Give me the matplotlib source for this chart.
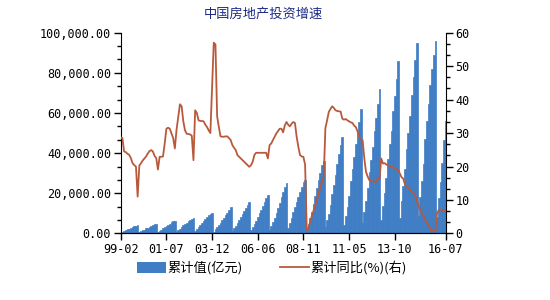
import numpy as np
import matplotlib
matplotlib.use("Agg")
import matplotlib.pyplot as plt
from matplotlib.ticker import FuncFormatter, MultipleLocator, AutoMinorLocator
from matplotlib.patches import Patch
from matplotlib.lines import Line2D

plt.rcParams['font.family'] = ['Noto Sans CJK SC', 'DejaVu Sans']

# months reported (Jan merged into Feb): Feb..Dec each year, 2016 up to Jul
years = list(range(1999, 2016))
months = [2, 3, 4, 5, 6, 7, 8, 9, 10, 11, 12]
last_months = [2, 3, 4, 5, 6, 7]

# cumulative investment (亿元), one list per year, Feb..Dec
inv_1999 = [420, 800, 1200, 1550, 1950, 2350, 2700, 3050, 3450, 3850, 4100]
inv_2000 = [500, 950, 1450, 1900, 2450, 2900, 3350, 3800, 4250, 4650, 4900]
inv_2001 = [580, 1200, 1800, 2450, 3150, 3750, 4300, 4900, 5500, 5950, 6300]
inv_2002 = [720, 1500, 2250, 3050, 3950, 4700, 5400, 6150, 6800, 7300, 7700]
inv_2003 = [950, 2000, 2950, 3950, 5250, 6250, 7250, 8300, 9100, 9700, 10100]
inv_2004 = [880, 1960, 2940, 3980, 5390, 6440, 7640, 9020, 10270, 11570, 13158]
inv_2005 = [1150, 2480, 3680, 5010, 6700, 8000, 9440, 11210, 12710, 14140, 15759]
inv_2006 = [1499, 3080, 4460, 6170, 8270, 9970, 11670, 13805, 15870, 17700, 19382]
inv_2007 = [1912, 3810, 5650, 7730, 10400, 12560, 15120, 17990, 20850, 23170, 25280]
inv_2008 = [2600, 5000, 7500, 10500, 13200, 15800, 18300, 20700, 23200, 25500, 26600]
inv_2009 = [2350, 4880, 7458, 10590, 14560, 18520, 22470, 26640, 30270, 33840, 36232]
inv_2010 = [3131, 6594, 9903, 14156, 19747, 24148, 29180, 34737, 39560, 43945, 48267]
inv_2011 = [4205, 8846, 13187, 18737, 26250, 31865, 38092, 44660, 49992, 55686, 61740]
inv_2012 = [5004, 10910, 16376, 22724, 30610, 36700, 42900, 51046, 57288, 64463, 71804]
inv_2013 = [6754, 13728, 20301, 27848, 36828, 44301, 51120, 61120, 68693, 76959, 86013]
inv_2014 = [7846, 16054, 23669, 32288, 42019, 50258, 58287, 68751, 78069, 86538, 95036]
inv_2015 = [8786, 18023, 25861, 34776, 46960, 55880, 64413, 74016, 81849, 89032, 95979]
inv_2016 = [8179, 17677, 25579, 34841, 46631, 55878]

# cumulative YoY growth (%), right axis
yoy_1999 = [28.7, 28.5, 24.5, 24.3, 23.8, 23.5, 22.5, 21.0, 20.4, 20.0, 11.0]
yoy_2000 = [20.3, 21.0, 21.8, 22.4, 23.0, 23.9, 24.6, 24.9, 24.5, 23.2, 22.5]
yoy_2001 = [19.1, 22.9, 22.9, 23.0, 26.9, 31.3, 31.6, 31.3, 29.9, 28.5, 25.4]
yoy_2002 = [31.0, 34.8, 38.6, 38.0, 33.5, 30.8, 29.8, 29.7, 29.6, 29.2, 21.9]
yoy_2003 = [36.8, 36.0, 33.8, 33.6, 33.6, 33.5, 32.5, 31.8, 30.8, 30.0, 43.5]
yoy_2004 = [57.0, 56.5, 35.0, 31.8, 29.0, 28.9, 28.9, 29.0, 29.0, 28.5, 27.9]
yoy_2005 = [26.4, 25.6, 24.9, 23.4, 22.9, 22.4, 21.9, 21.4, 20.9, 20.4, 19.9]
yoy_2006 = [20.4, 21.4, 23.4, 24.1, 24.1, 24.1, 24.1, 24.1, 24.1, 24.1, 22.4]
yoy_2007 = [26.4, 26.9, 27.9, 28.9, 29.9, 30.6, 31.3, 31.3, 30.2, 32.3, 33.3]
yoy_2008 = [32.5, 32.0, 32.8, 33.3, 33.0, 28.9, 25.9, 23.4, 23.0, 22.9, 20.5]
yoy_2009 = [1.0, 1.5, 3.5, 5.2, 7.0, 8.5, 10.0, 12.0, 13.9, 15.5, 16.9]
yoy_2010 = [31.5, 33.8, 36.3, 37.2, 38.0, 37.5, 36.8, 36.6, 36.5, 36.4, 34.3]
yoy_2011 = [34.0, 34.2, 33.8, 33.5, 33.2, 33.0, 32.2, 31.8, 30.5, 28.9, 28.2]
yoy_2012 = [27.9, 22.4, 18.4, 17.0, 15.9, 15.6, 15.6, 15.4, 15.4, 16.5, 16.2]
yoy_2013 = [22.4, 20.9, 21.0, 20.6, 20.3, 20.2, 19.9, 19.7, 19.4, 19.2, 19.0]
yoy_2014 = [17.9, 16.8, 16.4, 14.7, 13.9, 13.7, 13.2, 12.5, 11.9, 11.5, 10.0]
yoy_2015 = [8.5, 7.0, 6.0, 5.1, 4.0, 3.3, 2.6, 1.0, 0.8, 0.6, 0.5]
yoy_2016 = [6.0, 7.0, 7.2, 7.0, 7.0, 6.5]

tick_labels = ['99-02', '01-07', '03-12', '06-06', '08-11', '11-05', '13-10', '16-07']

inv = np.array(inv_1999 + inv_2000 + inv_2001 + inv_2002 + inv_2003 + inv_2004
               + inv_2005 + inv_2006 + inv_2007 + inv_2008 + inv_2009 + inv_2010
               + inv_2011 + inv_2012 + inv_2013 + inv_2014 + inv_2015 + inv_2016, dtype=float)
yoy = np.array(yoy_1999 + yoy_2000 + yoy_2001 + yoy_2002 + yoy_2003 + yoy_2004
               + yoy_2005 + yoy_2006 + yoy_2007 + yoy_2008 + yoy_2009 + yoy_2010
               + yoy_2011 + yoy_2012 + yoy_2013 + yoy_2014 + yoy_2015 + yoy_2016, dtype=float)

# period labels like 99-02, used to place the ticks
periods = ['%02d-%02d' % (y % 100, m) for y in years for m in months]
periods += ['16-%02d' % m for m in last_months]
x = np.arange(len(periods))
tick_pos = [periods.index(t) for t in tick_labels]

bar_color = '#3f7dc4'
line_color = '#b9593b'
mono = 'DejaVu Sans Mono'

fig = plt.figure(figsize=(5.5, 3.0), dpi=100)
ax = fig.add_axes([0.2195, 0.222, 0.5905, 0.669])
ax.bar(x, inv, width=1.0, color=bar_color, edgecolor=bar_color, linewidth=0.5)
ax.set_xlim(0, len(x) - 1)
ax.set_ylim(0, 100000)
ax.yaxis.set_major_locator(MultipleLocator(20000))
ax.yaxis.set_minor_locator(AutoMinorLocator(3))
ax.yaxis.set_major_formatter(FuncFormatter(lambda v, p: '{:,.2f}'.format(v)))
ax.set_xticks(tick_pos)
ax.set_xticklabels(tick_labels)
for lab in ax.get_xticklabels() + ax.get_yticklabels():
    lab.set_fontfamily(mono)
    lab.set_fontsize(8.5)
ax.tick_params(axis='both', which='major', length=5, width=1, direction='out', pad=2)
ax.tick_params(axis='y', which='minor', length=3, width=1, direction='out')
ax.spines['top'].set_visible(False)
ax.spines['right'].set_visible(False)

ax2 = ax.twinx()
ax2.plot(x, yoy, color=line_color, linewidth=1.3)
ax2.set_ylim(0, 60)
ax2.yaxis.set_major_locator(MultipleLocator(10))
ax2.yaxis.set_minor_locator(AutoMinorLocator(3))
for lab in ax2.get_yticklabels():
    lab.set_fontfamily(mono)
    lab.set_fontsize(8.5)
ax2.tick_params(axis='y', which='major', length=5, width=1, direction='out', pad=2)
ax2.tick_params(axis='y', which='minor', length=3, width=1, direction='out')
ax2.spines['top'].set_visible(False)
ax2.spines['left'].set_visible(False)

fig.text(0.478, 0.953, '中国房地产投资增速', ha='center', va='center',
         fontsize=9.5, color='#1c2a86')

handles = [Patch(facecolor=bar_color, edgecolor='none'),
           Line2D([0], [0], color=line_color, linewidth=1.3)]
fig.legend(handles, ['累计值(亿元)', '累计同比(%)(右)'], loc='center',
           bbox_to_anchor=(0.494, 0.107), ncol=2, frameon=False, fontsize=9.5,
           handlelength=2.2, handleheight=0.9, handletextpad=0.1, columnspacing=2.8)

fig.savefig('out.png', dpi=100, facecolor='white')
